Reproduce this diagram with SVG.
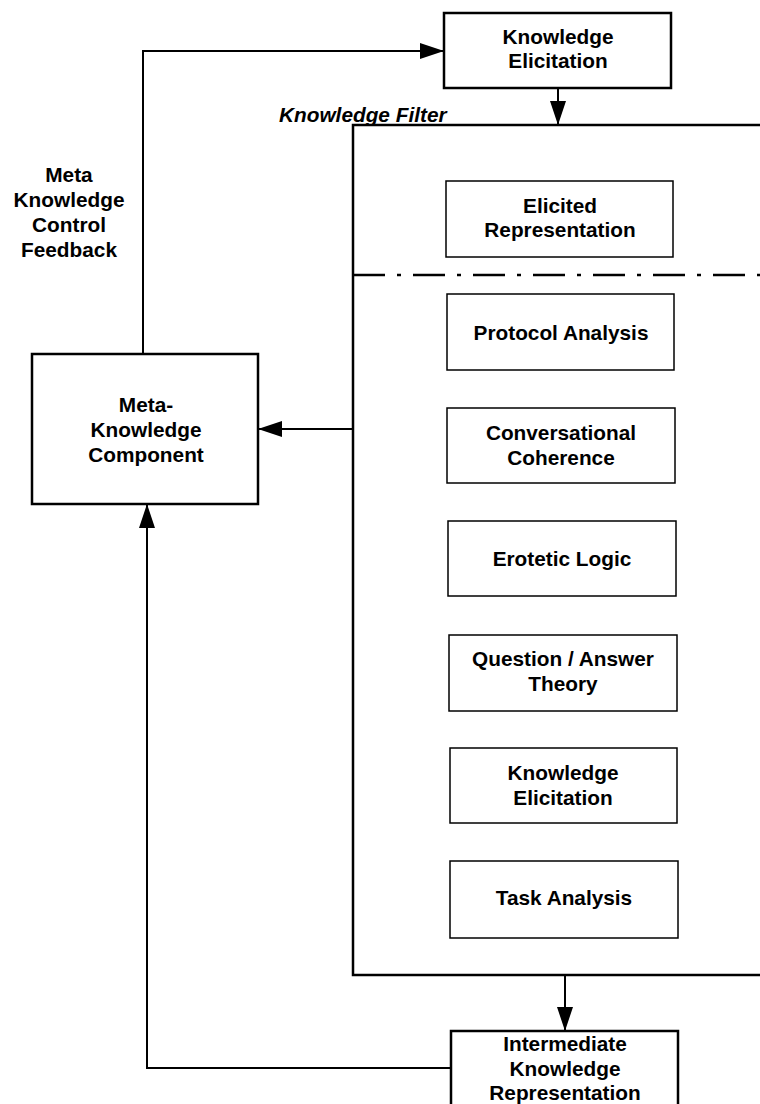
<svg xmlns="http://www.w3.org/2000/svg" width="760" height="1104" viewBox="0 0 760 1104">
  <style>
    text { font-family: "Liberation Sans", Arial, sans-serif; font-weight: bold; font-size: 20.8px; fill: #000; text-anchor: middle; }
    .outer { fill: #fff; stroke: #000; stroke-width: 2.5; }
    .inner { fill: #fff; stroke: #000; stroke-width: 1.5; }
    .wire { fill: none; stroke: #000; stroke-width: 2; }
    .title { font-style: italic; text-anchor: start; }
  </style>
  <defs>
    <marker id="arrow" markerUnits="userSpaceOnUse" markerWidth="24" markerHeight="16" viewBox="0 0 24 16" refX="24" refY="8" orient="auto">
      <path d="M0,0 L24,8 L0,16 Z" fill="#000"/>
    </marker>
  </defs>
  <rect width="760" height="1104" fill="#fff"/>

  <!-- Knowledge filter container -->
  <g id="knowledge-filter">
    <rect class="outer" x="353" y="125" width="420" height="850"/>
    <text class="title" x="279" y="122">Knowledge Filter</text>
    <line x1="353" y1="275" x2="760" y2="275" stroke="#000" stroke-width="2.5" stroke-dasharray="32 12 4 12"/>
  </g>

  <!-- connectors -->
  <g id="connectors">
    <path class="wire" d="M143,354 V51 H444" marker-end="url(#arrow)"/>
    <path class="wire" d="M558,88 V125" marker-end="url(#arrow)"/>
    <path class="wire" d="M353,429 H258" marker-end="url(#arrow)"/>
    <path class="wire" d="M565,975 V1031" marker-end="url(#arrow)"/>
    <path class="wire" d="M451,1068 H147 V504" marker-end="url(#arrow)"/>
  </g>

  <g id="feedback-label">
    <text x="69" y="182">Meta</text>
    <text x="69" y="207">Knowledge</text>
    <text x="69" y="232">Control</text>
    <text x="69" y="257">Feedback</text>
  </g>

  <g id="knowledge-elicitation-top">
    <rect class="outer" x="444" y="13" width="227" height="75"/>
    <text x="558" y="44">Knowledge</text>
    <text x="558" y="68">Elicitation</text>
  </g>

  <g id="meta-knowledge-component">
    <rect class="outer" x="32" y="354" width="226" height="150"/>
    <text x="146" y="412">Meta-</text>
    <text x="146" y="437">Knowledge</text>
    <text x="146" y="462">Component</text>
  </g>

  <g id="elicited-representation">
    <rect class="inner" x="446" y="181" width="227" height="76"/>
    <text x="560" y="213">Elicited</text>
    <text x="560" y="237">Representation</text>
  </g>

  <g id="protocol-analysis">
    <rect class="inner" x="447" y="294" width="227" height="76"/>
    <text x="561" y="340">Protocol Analysis</text>
  </g>

  <g id="conversational-coherence">
    <rect class="inner" x="447" y="408" width="228" height="75"/>
    <text x="561" y="440">Conversational</text>
    <text x="561" y="465">Coherence</text>
  </g>

  <g id="erotetic-logic">
    <rect class="inner" x="448" y="521" width="228" height="75"/>
    <text x="562" y="566">Erotetic Logic</text>
  </g>

  <g id="question-answer-theory">
    <rect class="inner" x="449" y="635" width="228" height="76"/>
    <text x="563" y="666">Question / Answer</text>
    <text x="563" y="691">Theory</text>
  </g>

  <g id="knowledge-elicitation-inner">
    <rect class="inner" x="450" y="748" width="227" height="75"/>
    <text x="563" y="780">Knowledge</text>
    <text x="563" y="805">Elicitation</text>
  </g>

  <g id="task-analysis">
    <rect class="inner" x="450" y="861" width="228" height="77"/>
    <text x="564" y="905">Task Analysis</text>
  </g>

  <g id="intermediate-knowledge-representation">
    <rect class="outer" x="451" y="1031" width="227" height="90"/>
    <text x="565" y="1051">Intermediate</text>
    <text x="565" y="1076">Knowledge</text>
    <text x="565" y="1100">Representation</text>
  </g>
</svg>
